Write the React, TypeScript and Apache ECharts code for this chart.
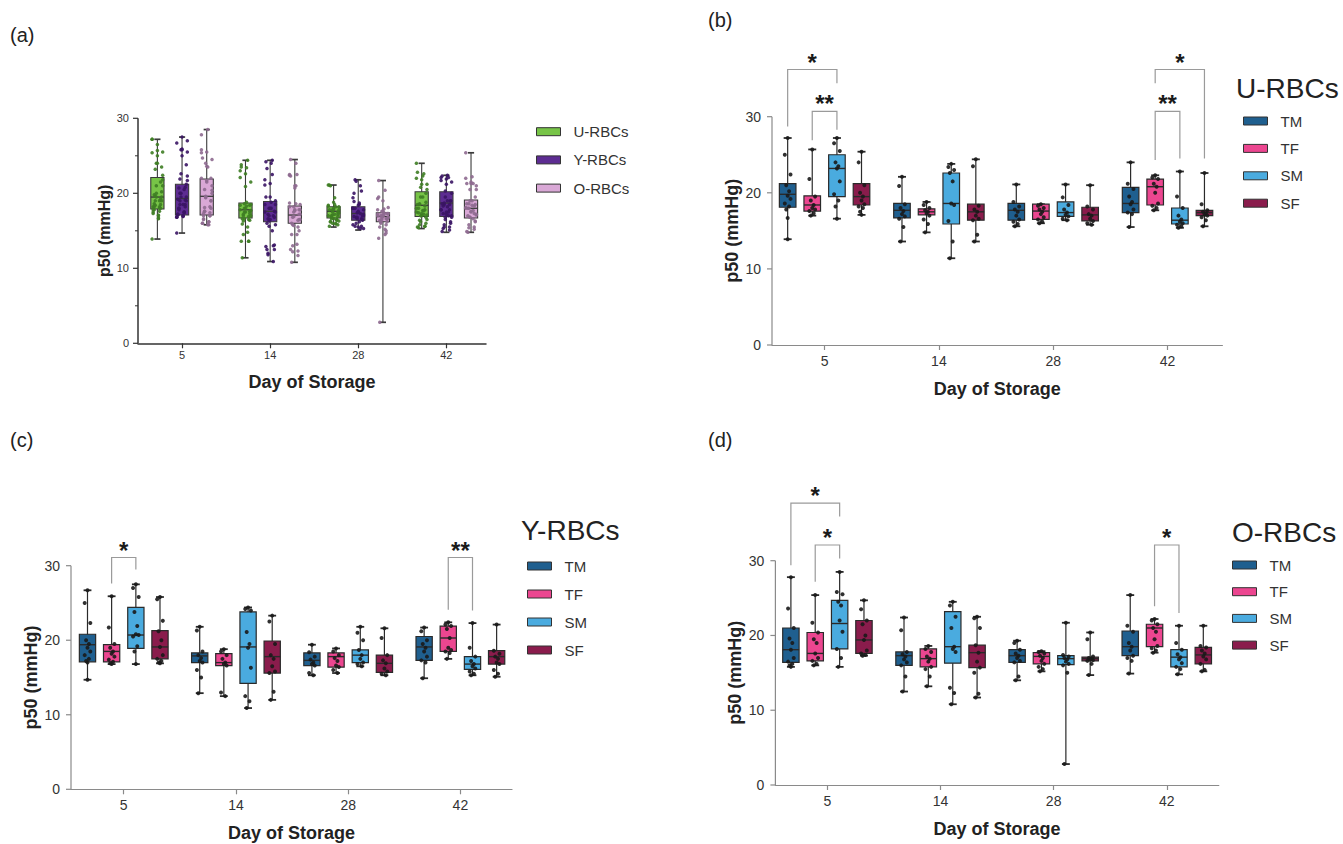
import React, { useEffect, useRef } from 'react';
import * as echarts from 'echarts';

const DAYS = ['5', '14', '28', '42'];
const SUBGROUPS = ['TM', 'TF', 'SM', 'SF'];
const DONORS = ['U-RBCs', 'Y-RBCs', 'O-RBCs'];
const Y_TICKS = [0, 10, 20, 30];
const Y_MINOR_TICKS = [5, 15, 25];

// box stats per day: [min, Q1, median, Q3, max]
const U_TM_BOX = [[13.9, 18.1, 19.8, 21.2, 27.2], [13.6, 16.7, 17.7, 18.6, 22.1], [15.6, 16.4, 17.7, 18.6, 21.1], [15.5, 17.4, 18.6, 20.7, 24.0]];
const U_TF_BOX = [[17.0, 17.6, 18.4, 19.6, 25.7], [14.8, 17.1, 17.5, 17.9, 18.8], [16.0, 16.5, 17.6, 18.5, 18.5], [17.7, 18.4, 20.8, 21.8, 22.3]];
const U_SM_BOX = [[16.6, 19.5, 23.2, 25.0, 27.2], [11.4, 15.9, 18.6, 22.6, 23.8], [16.4, 16.9, 17.4, 18.8, 21.1], [15.4, 15.9, 16.4, 18.0, 22.8]];
const U_SF_BOX = [[17.1, 18.4, 19.5, 21.2, 25.4], [13.6, 16.4, 17.5, 18.5, 24.4], [15.8, 16.3, 17.1, 18.1, 21.0], [15.6, 17.0, 17.4, 17.7, 22.6]];

const Y_TM_BOX = [[14.7, 17.1, 19.4, 20.8, 26.7], [12.9, 17.0, 17.9, 18.3, 21.8], [15.3, 16.6, 17.3, 18.3, 19.4], [14.9, 17.3, 19.1, 20.5, 21.7]];
const Y_TF_BOX = [[16.8, 17.1, 18.5, 19.4, 25.9], [12.5, 16.6, 17.0, 18.2, 18.8], [15.6, 16.4, 17.8, 18.3, 18.9], [17.5, 18.5, 20.3, 21.9, 22.4]];
const Y_SM_BOX = [[16.8, 18.9, 20.7, 24.4, 27.5], [10.9, 14.2, 19.1, 23.8, 24.4], [16.5, 17.0, 18.0, 18.7, 21.8], [15.3, 16.1, 16.8, 17.8, 22.3]];
const Y_SF_BOX = [[16.9, 17.5, 19.1, 21.3, 25.8], [12.0, 15.6, 17.8, 19.9, 23.3], [15.3, 15.7, 16.9, 18.0, 21.6], [15.1, 16.8, 17.8, 18.6, 22.1]];

const O_TM_BOX = [[15.8, 16.4, 18.1, 21.0, 27.8], [12.5, 16.0, 17.3, 17.8, 22.4], [14.0, 16.4, 17.3, 18.1, 19.3], [14.9, 17.3, 18.5, 20.6, 25.4]];
const O_TF_BOX = [[16.0, 16.6, 17.6, 20.4, 25.4], [13.2, 15.8, 16.9, 18.2, 18.6], [15.2, 16.2, 17.2, 17.7, 17.9], [17.7, 18.5, 21.0, 21.5, 22.2]];
const O_SM_BOX = [[15.8, 18.2, 21.6, 24.7, 28.5], [10.8, 16.3, 18.5, 23.2, 24.5], [2.8, 16.1, 16.9, 17.3, 21.7], [14.8, 15.8, 17.1, 18.1, 21.3]];
const O_SF_BOX = [[17.3, 17.6, 19.4, 22.0, 24.7], [11.7, 15.7, 17.7, 18.7, 22.5], [14.7, 16.6, 16.9, 17.1, 20.4], [15.2, 16.2, 17.4, 18.4, 21.3]];

const ALL_U_BOX = [[13.9, 17.9, 19.5, 22.1, 27.2], [11.4, 16.7, 17.8, 18.7, 24.4], [15.5, 16.7, 17.6, 18.2, 21.1], [15.3, 16.9, 18.4, 20.2, 24.0]];
const ALL_Y_BOX = [[14.7, 17.1, 19.3, 21.2, 27.5], [10.9, 16.2, 17.6, 18.9, 24.4], [15.1, 16.4, 17.3, 18.2, 21.8], [14.8, 16.9, 18.7, 20.2, 22.4]];
const ALL_O_BOX = [[15.8, 17.1, 19.6, 21.9, 28.5], [10.8, 16.0, 17.1, 18.3, 24.5], [2.8, 16.2, 16.9, 17.4, 21.7], [14.8, 16.7, 18.0, 19.1, 25.4]];

// individual points per day
const U_TM_PTS = [[27.2, 25.0, 22.4, 21.0, 20.2, 19.6, 19.2, 18.6, 18.2, 17.8, 16.7, 13.9], [22.1, 20.9, 18.5, 18.0, 17.6, 17.2, 16.9, 16.6, 15.5, 13.6], [21.1, 18.8, 18.2, 17.8, 17.5, 17.0, 16.5, 16.2, 15.9, 15.6], [24.0, 21.2, 20.5, 19.5, 18.8, 18.5, 17.8, 17.4, 17.2, 15.5]];
const U_TF_PTS = [[25.7, 21.8, 19.5, 19.0, 18.4, 18.0, 17.8, 17.6, 17.3, 17.0], [18.8, 18.4, 18.0, 17.7, 17.5, 17.3, 17.0, 16.5, 15.9, 14.8], [18.5, 18.3, 18.0, 17.8, 17.5, 17.2, 16.8, 16.5, 16.2, 16.0], [22.3, 22.0, 21.8, 21.2, 20.8, 20.0, 18.6, 18.3, 18.0, 17.7]];
const U_SM_PTS = [[27.2, 26.5, 25.5, 24.0, 23.5, 23.2, 21.5, 19.8, 19.0, 18.2, 16.6], [23.8, 23.4, 23.0, 22.6, 21.5, 18.6, 18.4, 16.3, 13.6, 11.4], [21.1, 19.4, 18.4, 17.8, 17.4, 17.1, 16.9, 16.6, 16.4], [22.8, 19.5, 18.0, 17.0, 16.5, 16.2, 16.0, 15.8, 15.6, 15.4]];
const U_SF_PTS = [[25.4, 24.0, 21.0, 20.0, 19.5, 19.0, 18.5, 18.2, 18.0, 17.5, 17.1], [24.4, 23.5, 18.3, 17.8, 17.5, 17.0, 16.6, 16.4, 14.5, 13.6], [21.0, 18.2, 17.8, 17.2, 17.0, 16.6, 16.3, 16.0, 15.8], [22.6, 18.5, 17.7, 17.5, 17.3, 17.1, 17.0, 16.8, 16.4, 15.6]];

const Y_TM_PTS = [[26.7, 25.0, 22.3, 20.0, 19.5, 19.0, 18.5, 18.0, 17.5, 17.2, 17.0, 14.7], [21.8, 21.3, 18.5, 18.0, 17.6, 17.2, 17.0, 16.0, 15.0, 12.9], [19.4, 18.4, 17.8, 17.4, 17.0, 16.8, 16.6, 15.6, 15.3], [21.7, 21.2, 20.0, 19.5, 19.0, 18.5, 17.8, 17.3, 17.0, 14.9]];
const Y_TF_PTS = [[25.9, 21.7, 19.5, 19.0, 18.5, 18.2, 17.8, 17.4, 17.1, 16.9, 16.8], [18.8, 18.5, 18.0, 17.5, 17.0, 16.8, 16.6, 13.0, 12.5], [18.9, 18.5, 18.0, 17.6, 17.2, 16.6, 16.4, 16.0, 15.6], [22.4, 22.1, 21.9, 21.5, 20.3, 19.0, 18.7, 18.5, 18.3, 17.5]];
const Y_SM_PTS = [[27.5, 27.0, 25.8, 23.8, 21.9, 20.8, 20.7, 20.5, 19.2, 18.5, 16.8], [24.4, 24.2, 24.0, 21.1, 19.5, 19.0, 16.3, 12.5, 11.8, 10.9], [21.8, 21.0, 20.0, 18.7, 18.0, 17.5, 17.0, 16.8, 16.5], [22.3, 19.0, 17.8, 17.2, 16.8, 16.5, 16.2, 15.8, 15.5, 15.3]];
const Y_SF_PTS = [[25.8, 25.5, 22.6, 21.2, 20.0, 19.1, 18.0, 17.5, 17.2, 17.0, 16.9], [23.3, 22.5, 19.5, 18.0, 17.5, 16.5, 15.8, 15.6, 13.1, 12.0], [21.6, 20.3, 18.0, 17.3, 16.9, 16.2, 15.8, 15.5, 15.3], [22.1, 18.6, 18.2, 17.8, 17.5, 17.0, 16.8, 16.0, 15.5, 15.1]];

const O_TM_PTS = [[27.8, 23.6, 21.0, 19.6, 19.0, 18.1, 17.0, 16.5, 16.2, 16.0, 15.8], [22.4, 20.7, 17.8, 17.5, 17.2, 16.8, 16.4, 16.0, 14.5, 12.5], [19.3, 19.0, 18.1, 17.6, 17.3, 17.0, 16.6, 16.4, 14.5, 14.0], [25.4, 21.3, 20.5, 19.0, 18.5, 18.0, 17.3, 17.0, 16.6, 14.9]];
const O_TF_PTS = [[25.4, 21.7, 20.4, 19.5, 19.0, 17.6, 17.0, 16.6, 16.2, 16.0], [18.6, 18.2, 17.8, 17.2, 16.9, 16.5, 15.8, 15.5, 14.5, 13.2], [17.9, 17.8, 17.6, 17.3, 17.0, 16.6, 16.2, 15.8, 15.5, 15.2], [22.2, 22.0, 21.5, 21.0, 20.5, 19.5, 18.6, 18.3, 18.0, 17.7]];
const O_SM_PTS = [[28.5, 25.8, 25.5, 24.5, 24.0, 22.0, 20.5, 18.2, 17.0, 15.8], [24.5, 24.0, 22.5, 21.0, 18.5, 18.2, 17.8, 13.0, 12.3, 10.8], [21.7, 17.4, 17.2, 17.0, 16.8, 16.5, 16.2, 16.0, 15.0, 2.8], [21.3, 19.0, 18.1, 17.5, 17.1, 16.8, 16.3, 15.8, 15.5, 14.8]];
const O_SF_PTS = [[24.7, 23.5, 22.0, 21.5, 20.0, 19.4, 18.0, 17.6, 17.4, 17.3], [22.5, 22.3, 21.0, 18.7, 17.7, 16.5, 15.7, 15.0, 12.2, 11.7], [20.4, 19.5, 17.2, 17.0, 16.9, 16.8, 16.7, 16.6, 16.2, 14.7], [21.3, 18.6, 18.4, 18.0, 17.6, 17.2, 16.8, 16.2, 15.4, 15.2]];

// significance brackets: [day, fromSubgroup, toSubgroup, top, leftLegEnd, rightLegEnd]
const U_BRACKETS = [[0, 0, 2, 36.2, 28.7, 34.4], [0, 1, 2, 30.7, 26.9, 28.3], [3, 1, 3, 36.2, 34.4, 24.5], [3, 1, 2, 30.7, 24.3, 24.5]];
const U_STARS = ['*', '**', '*', '**'];
const Y_BRACKETS = [[0, 1, 2, 31.1, 27.6, 29.5], [3, 1, 2, 31.1, 24.1, 24.0]];
const Y_STARS = ['*', '**'];
const O_BRACKETS = [[0, 0, 2, 37.7, 29.4, 35.9], [0, 1, 2, 32.1, 27.2, 30.3], [3, 1, 2, 32.1, 23.9, 23.0]];
const O_STARS = ['*', '*', '*'];

const FONT = 'Liberation Sans, Arial, Helvetica, sans-serif';
const SUB_COLORS = ['#1f5f8f', '#ec4690', '#4aabdf', '#8a1c4c'];
const DONOR_COLORS = ['#77c447', '#5d2c92', '#d9a8d6'];
const DONOR_PT_COLORS = ['#3e7d24', '#3a1464', '#8e6a90'];
const SUB_OFFSETS = [-0.323, -0.108, 0.108, 0.323];
const DONOR_OFFSETS = [-0.28, 0, 0.28];
const STAR_SIZE = 24;

function boxSeries(name: string, gi: number, boxes: number[][], offset: number, color: string, boxW: number, capW: number, lineColor: string, lw: number) {
  return {
    type: 'custom',
    name,
    xAxisIndex: gi,
    yAxisIndex: gi,
    clip: false,
    z: 2,
    silent: true,
    itemStyle: { color, borderColor: '#333' },
    encode: { x: 0, y: [1, 2, 3, 4, 5] },
    data: boxes.map((b, d) => [d + offset, ...b]),
    renderItem: (params: any, api: any) => {
      const x = api.value(0);
      const mn = api.value(1), q1 = api.value(2), md = api.value(3), q3 = api.value(4), mx = api.value(5);
      const cx = api.coord([x, md])[0];
      const yMin = api.coord([x, mn])[1];
      const yMax = api.coord([x, mx])[1];
      const yQ1 = api.coord([x, q1])[1];
      const yQ3 = api.coord([x, q3])[1];
      const yMd = api.coord([x, md])[1];
      const xl = api.coord([x - boxW / 2, md])[0];
      const xr = api.coord([x + boxW / 2, md])[0];
      const cl = api.coord([x - capW / 2, md])[0];
      const cr = api.coord([x + capW / 2, md])[0];
      const ls = { stroke: lineColor, lineWidth: lw };
      return {
        type: 'group',
        children: [
          { type: 'line', shape: { x1: cx, y1: yMax, x2: cx, y2: yMin }, style: ls },
          { type: 'line', shape: { x1: cl, y1: yMax, x2: cr, y2: yMax }, style: { stroke: lineColor, lineWidth: lw + 0.6 } },
          { type: 'line', shape: { x1: cl, y1: yMin, x2: cr, y2: yMin }, style: { stroke: lineColor, lineWidth: lw + 0.6 } },
          { type: 'rect', shape: { x: xl, y: yQ3, width: xr - xl, height: yQ1 - yQ3 }, style: { fill: color, stroke: lineColor, lineWidth: lw } },
          { type: 'line', shape: { x1: xl, y1: yMd, x2: xr, y2: yMd }, style: { stroke: lineColor, lineWidth: lw + 0.2 } },
        ],
      };
    },
  };
}

const SMALL_JITTER = [0, -1, 1, -0.5, 0.5, 0, 1, -1, 0.5, -0.5, 0, 0];
function pointSeries(gi: number, pts: number[][], offset: number, color: string, size: number, spread: number) {
  const data: number[][] = [];
  pts.forEach((arr, d) => {
    arr.forEach((v, i) => {
      const j = spread > 0.04 ? (((i * 5) % 11) / 10 - 0.5) * spread : SMALL_JITTER[i % SMALL_JITTER.length] * spread;
      data.push([d + offset + j, v]);
    });
  });
  return {
    type: 'scatter',
    xAxisIndex: gi,
    yAxisIndex: gi,
    z: 3,
    silent: true,
    symbolSize: size,
    itemStyle: { color, opacity: 0.9 },
    data,
  };
}

function bracketSeries(gi: number, rows: number[][], stars: string[], offsets: number[]) {
  return {
    type: 'custom',
    xAxisIndex: gi,
    yAxisIndex: gi,
    clip: false,
    z: 4,
    silent: true,
    encode: { x: [0, 1], y: [2, 3, 4] },
    data: rows.map((r) => [r[0] + offsets[r[1]], r[0] + offsets[r[2]], r[3], r[4], r[5]]),
    renderItem: (params: any, api: any) => {
      const x1 = api.value(0), x2 = api.value(1), top = api.value(2), le = api.value(3), re = api.value(4);
      const a = api.coord([x1, top]);
      const b = api.coord([x2, top]);
      const la = api.coord([x1, le]);
      const rb = api.coord([x2, re]);
      return {
        type: 'group',
        children: [
          { type: 'polyline', shape: { points: [la, a, b, rb] }, style: { stroke: '#9a9a9a', lineWidth: 1.2, fill: 'none' } },
          {
            type: 'text',
            x: (a[0] + b[0]) / 2,
            y: a[1] - 13 + 0.23 * STAR_SIZE,
            style: { text: stars[params.dataIndex], font: `bold ${STAR_SIZE}px ${FONT}`, fill: '#1a1a1a', align: 'center', verticalAlign: 'middle' },
          },
        ],
      };
    },
  };
}

// vertical value-axis line with its ticks, placed on the grid's left edge through the axis scale
function yFrameSeries(gi: number, color: string, width: number, minor: boolean) {
  return {
    type: 'custom',
    xAxisIndex: gi,
    yAxisIndex: gi,
    clip: false,
    z: 5,
    silent: true,
    encode: { x: 0, y: 1 },
    data: [[0, 0]],
    renderItem: (params: any, api: any) => {
      const cs = params.coordSys;
      const x0 = cs.x;
      const children: any[] = [
        { type: 'line', shape: { x1: x0, y1: cs.y, x2: x0, y2: cs.y + cs.height }, style: { stroke: color, lineWidth: width } },
      ];
      Y_TICKS.forEach((v) => {
        const y = api.coord([0, v])[1];
        children.push({ type: 'line', shape: { x1: x0 - 5, y1: y, x2: x0, y2: y }, style: { stroke: color, lineWidth: 1.2 } });
      });
      if (minor) {
        Y_MINOR_TICKS.forEach((v) => {
          const y = api.coord([0, v])[1];
          children.push({ type: 'line', shape: { x1: x0 - 3, y1: y, x2: x0, y2: y }, style: { stroke: color, lineWidth: 1 } });
        });
      }
      return { type: 'group', children };
    },
  };
}

function xAxisFor(gi: number, min: number, max: number, small: boolean) {
  const c = small ? '#333' : '#8a8a8a';
  return {
    type: 'value',
    gridIndex: gi,
    position: 'bottom',
    min,
    max,
    name: 'Day of Storage',
    nameLocation: 'middle',
    nameGap: small ? 30 : 35,
    nameTextStyle: { fontFamily: FONT, fontWeight: 'bold', fontSize: 18, color: '#222' },
    axisLine: { show: true, onZero: false, lineStyle: { color: c, width: small ? 1.5 : 1.2 } },
    axisTick: { show: true, customValues: [0, 1, 2, 3], length: 5, lineStyle: { color: c, width: 1.2 } },
    axisLabel: {
      customValues: [0, 1, 2, 3],
      formatter: (v: number) => DAYS[Math.round(v)] ?? '',
      fontFamily: FONT,
      fontSize: small ? 11 : 14,
      color: '#333',
      margin: small ? 6 : 9,
    },
    splitLine: { show: false },
  };
}

function yAxisFor(gi: number, small: boolean) {
  return {
    type: 'value',
    gridIndex: gi,
    position: 'left',
    min: 0,
    max: 30,
    interval: 10,
    name: 'p50 (mmHg)',
    nameLocation: 'middle',
    nameRotate: 90,
    nameGap: small ? 20 : 31,
    nameTextStyle: { fontFamily: FONT, fontWeight: 'bold', fontSize: small ? 16 : 18, color: '#222' },
    axisLine: { show: false, onZero: false },
    axisTick: { show: false },
    axisLabel: { fontFamily: FONT, fontSize: small ? 11 : 14, color: '#333', margin: small ? 9 : 11 },
    splitLine: { show: false },
  };
}

function legendFor(names: string[], left: number, top: number, gap: number, fontSize: number) {
  return {
    orient: 'vertical',
    left,
    top,
    padding: 0,
    itemWidth: 24,
    itemHeight: 8,
    itemGap: gap,
    icon: 'rect',
    selectedMode: false,
    data: names,
    itemStyle: { borderColor: '#333', borderWidth: 1 },
    textStyle: { fontFamily: FONT, fontSize, lineHeight: 16, color: '#333', padding: [0, 0, 0, 8] },
  };
}

function buildOption() {
  const grids = [
    { left: 138, top: 118.3, width: 348, height: 225 },
    { left: 772, top: 116.7, width: 450.4, height: 228.3 },
    { left: 71, top: 565.7, width: 441, height: 223.6 },
    { left: 775.4, top: 560.7, width: 443.4, height: 224.3 },
  ];
  const xr = [[-0.5, 3.45], [-0.46, 3.48], [-0.47, 3.46], [-0.46, 3.46]];

  const series: any[] = [];
  // panel (a)
  const allBoxes = [ALL_U_BOX, ALL_Y_BOX, ALL_O_BOX];
  const subPts = [
    [U_TM_PTS, U_TF_PTS, U_SM_PTS, U_SF_PTS],
    [Y_TM_PTS, Y_TF_PTS, Y_SM_PTS, Y_SF_PTS],
    [O_TM_PTS, O_TF_PTS, O_SM_PTS, O_SF_PTS],
  ];
  DONORS.forEach((dn, k) => {
    series.push(boxSeries(dn, 0, allBoxes[k], DONOR_OFFSETS[k], DONOR_COLORS[k], 0.15, 0.07, '#3a3a3a', 1.1));
    const pooled = DAYS.map((_, d) => subPts[k].flatMap((arr) => arr[d]));
    series.push(pointSeries(0, pooled, DONOR_OFFSETS[k], DONOR_PT_COLORS[k], 3.5, 0.12));
  });
  // panels (b)(c)(d)
  const subBoxes = [
    [U_TM_BOX, U_TF_BOX, U_SM_BOX, U_SF_BOX],
    [Y_TM_BOX, Y_TF_BOX, Y_SM_BOX, Y_SF_BOX],
    [O_TM_BOX, O_TF_BOX, O_SM_BOX, O_SF_BOX],
  ];
  for (let p = 0; p < 3; p++) {
    SUBGROUPS.forEach((sg, k) => {
      series.push(boxSeries(sg, p + 1, subBoxes[p][k], SUB_OFFSETS[k], SUB_COLORS[k], 0.145, 0.07, '#2a2a2a', 1.2));
      series.push(pointSeries(p + 1, subPts[p][k], SUB_OFFSETS[k], '#1a1a1a', 4, 0.025));
    });
  }
  series.push(bracketSeries(1, U_BRACKETS, U_STARS, SUB_OFFSETS));
  series.push(bracketSeries(2, Y_BRACKETS, Y_STARS, SUB_OFFSETS));
  series.push(bracketSeries(3, O_BRACKETS, O_STARS, SUB_OFFSETS));
  series.push(yFrameSeries(0, '#333', 1.5, true));
  series.push(yFrameSeries(1, '#8a8a8a', 1.2, false));
  series.push(yFrameSeries(2, '#8a8a8a', 1.2, false));
  series.push(yFrameSeries(3, '#8a8a8a', 1.2, false));

  const txt = (text: string, x: number, y: number, size: number) => ({
    type: 'text',
    x,
    y,
    style: { text, font: `${size}px ${FONT}`, fill: '#222', align: 'left', verticalAlign: 'middle' },
  });

  return {
    animation: false,
    backgroundColor: '#ffffff',
    grid: grids,
    xAxis: grids.map((_, i) => xAxisFor(i, xr[i][0], xr[i][1], i === 0)),
    yAxis: grids.map((_, i) => yAxisFor(i, i === 0)),
    legend: [
      legendFor(DONORS, 536, 123.7, 12.2, 15),
      legendFor(SUBGROUPS, 1243, 113, 11.4, 15),
      legendFor(SUBGROUPS, 527, 558, 12, 15),
      legendFor(SUBGROUPS, 1232, 557, 10.7, 15),
    ],
    graphic: [
      txt('(a)', 10, 35, 20),
      txt('(b)', 708, 20, 20),
      txt('(c)', 10, 440, 20),
      txt('(d)', 708, 440, 20),
      txt('U-RBCs', 1236, 88, 28),
      txt('Y-RBCs', 521, 530, 28),
      txt('O-RBCs', 1232, 532, 28),
    ],
    series,
  };
}

export default function App() {
  const ref = useRef<HTMLDivElement>(null);
  useEffect(() => {
    if (!ref.current) return;
    const chart = echarts.init(ref.current, null, { renderer: 'svg' });
    chart.setOption(buildOption() as any);
    return () => chart.dispose();
  }, []);
  return (
    <div
      ref={ref}
      style={{ position: 'fixed', left: 0, top: 0, width: 1343, height: 844, background: '#fff' }}
    />
  );
}
